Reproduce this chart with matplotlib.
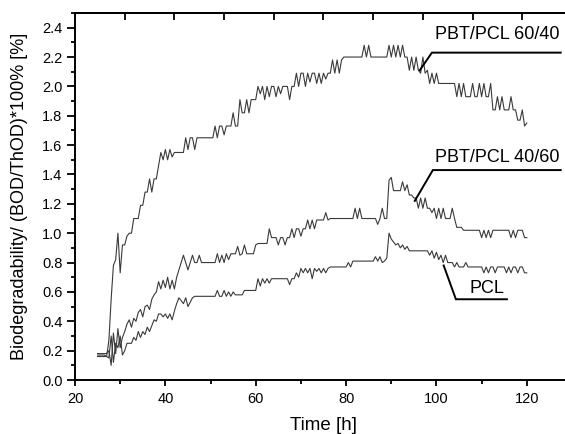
import numpy as np
import matplotlib
matplotlib.use("Agg")
from matplotlib import pyplot as plt
from matplotlib.ticker import MultipleLocator, FormatStrFormatter

plt.rcParams['font.family'] = ['Liberation Sans', 'DejaVu Sans']

# time grid of the measurements [h], one reading every half hour
t_start, t_end, t_step = 25.0, 120.0, 0.5

# Biodegradability (BOD/ThOD)*100% [%]
pbt_pcl_60_40 = [
    0.17, 0.17, 0.17, 0.17, 0.16, 0.27, 0.55, 0.78, 0.82, 1.00,   # 25
    0.73, 0.92, 0.92, 0.98, 1.00, 1.00, 1.10, 1.10, 1.10, 1.19,   # 30
    1.19, 1.28, 1.28, 1.37, 1.28, 1.37, 1.37, 1.46, 1.55, 1.50,   # 35
    1.57, 1.50, 1.57, 1.52, 1.55, 1.55, 1.55, 1.55, 1.55, 1.65,   # 40
    1.57, 1.65, 1.65, 1.57, 1.65, 1.65, 1.65, 1.65, 1.65, 1.65,   # 45
    1.65, 1.65, 1.73, 1.65, 1.73, 1.73, 1.67, 1.73, 1.73, 1.73,   # 50
    1.82, 1.73, 1.73, 1.91, 1.82, 1.82, 1.91, 1.82, 1.91, 1.91,   # 55
    1.91, 2.00, 1.95, 2.00, 1.91, 2.00, 1.93, 2.00, 2.00, 1.93,   # 60
    2.00, 1.95, 2.00, 2.00, 2.00, 1.91, 2.00, 2.00, 2.09, 2.00,   # 65
    2.09, 2.09, 2.00, 2.09, 2.03, 2.09, 2.09, 2.02, 2.09, 2.02,   # 70
    2.09, 2.05, 2.09, 2.09, 2.18, 2.09, 2.18, 2.09, 2.18, 2.20,   # 75
    2.20, 2.20, 2.20, 2.20, 2.20, 2.20, 2.20, 2.20, 2.28, 2.20,   # 80
    2.28, 2.20, 2.20, 2.20, 2.20, 2.20, 2.20, 2.20, 2.20, 2.28,   # 85
    2.20, 2.28, 2.20, 2.28, 2.20, 2.28, 2.20, 2.20, 2.11, 2.20,   # 90
    2.11, 2.20, 2.11, 2.09, 2.20, 2.09, 2.11, 2.02, 2.09, 2.02,   # 95
    2.09, 2.02, 2.02, 2.02, 2.02, 2.02, 2.02, 2.02, 2.02, 1.93,   # 100
    2.02, 1.93, 2.02, 1.93, 1.93, 1.93, 2.02, 1.93, 1.93, 2.02,   # 105
    1.93, 2.02, 1.93, 1.93, 2.02, 1.84, 1.84, 1.93, 1.84, 1.93,   # 110
    1.84, 1.84, 1.84, 1.93, 1.84, 1.84, 1.77, 1.77, 1.84, 1.73,   # 115
    1.75]

pbt_pcl_40_60 = [
    0.18, 0.18, 0.18, 0.18, 0.18, 0.20, 0.10, 0.32, 0.18, 0.35,   # 25
    0.22, 0.29, 0.33, 0.38, 0.41, 0.36, 0.42, 0.40, 0.46, 0.48,   # 30
    0.43, 0.50, 0.51, 0.48, 0.55, 0.58, 0.60, 0.67, 0.62, 0.68,   # 35
    0.63, 0.70, 0.62, 0.68, 0.62, 0.70, 0.75, 0.80, 0.85, 0.80,   # 40
    0.75, 0.80, 0.85, 0.80, 0.80, 0.85, 0.80, 0.80, 0.80, 0.80,   # 45
    0.80, 0.80, 0.80, 0.86, 0.80, 0.85, 0.80, 0.86, 0.82, 0.86,   # 50
    0.86, 0.86, 0.91, 0.85, 0.86, 0.92, 0.86, 0.86, 0.86, 0.86,   # 55
    0.92, 0.93, 0.93, 0.93, 0.93, 0.93, 1.03, 0.97, 0.97, 0.97,   # 60
    0.92, 0.97, 0.97, 0.92, 0.97, 0.97, 1.03, 0.97, 1.03, 1.03,   # 65
    0.98, 1.03, 1.03, 1.09, 1.03, 1.09, 1.03, 1.09, 1.09, 1.09,   # 70
    1.09, 1.14, 1.09, 1.10, 1.10, 1.10, 1.10, 1.10, 1.10, 1.10,   # 75
    1.10, 1.10, 1.10, 1.10, 1.17, 1.10, 1.17, 1.10, 1.10, 1.10,   # 80
    1.10, 1.10, 1.10, 1.10, 1.06, 1.10, 1.17, 1.10, 1.10, 1.36,   # 85
    1.38, 1.29, 1.29, 1.29, 1.29, 1.35, 1.29, 1.33, 1.26, 1.26,   # 90
    1.24, 1.24, 1.17, 1.24, 1.17, 1.24, 1.17, 1.17, 1.14, 1.17,   # 95
    1.10, 1.17, 1.10, 1.17, 1.10, 1.10, 1.10, 1.17, 1.10, 1.04,   # 100
    1.04, 1.04, 1.02, 1.02, 1.02, 1.02, 1.02, 1.02, 1.02, 1.02,   # 105
    0.97, 1.02, 0.97, 1.02, 0.97, 1.02, 1.02, 1.02, 1.02, 1.02,   # 110
    1.02, 1.02, 1.02, 0.97, 1.02, 0.97, 1.02, 1.02, 1.02, 0.97,   # 115
    0.97]

pcl = [
    0.16, 0.16, 0.16, 0.16, 0.16, 0.15, 0.30, 0.12, 0.25, 0.22,   # 25
    0.30, 0.17, 0.20, 0.25, 0.25, 0.25, 0.29, 0.27, 0.33, 0.29,   # 30
    0.33, 0.31, 0.36, 0.33, 0.37, 0.41, 0.40, 0.45, 0.45, 0.43,   # 35
    0.45, 0.42, 0.45, 0.41, 0.47, 0.52, 0.56, 0.54, 0.52, 0.56,   # 40
    0.50, 0.53, 0.56, 0.57, 0.57, 0.57, 0.57, 0.57, 0.57, 0.57,   # 45
    0.57, 0.57, 0.57, 0.61, 0.57, 0.57, 0.61, 0.57, 0.60, 0.57,   # 50
    0.60, 0.58, 0.58, 0.58, 0.58, 0.61, 0.61, 0.61, 0.61, 0.61,   # 55
    0.61, 0.69, 0.64, 0.69, 0.66, 0.69, 0.66, 0.69, 0.69, 0.69,   # 60
    0.69, 0.69, 0.69, 0.69, 0.69, 0.65, 0.69, 0.69, 0.73, 0.70,   # 65
    0.76, 0.73, 0.76, 0.73, 0.76, 0.69, 0.76, 0.74, 0.76, 0.73,   # 70
    0.76, 0.73, 0.76, 0.77, 0.77, 0.77, 0.77, 0.77, 0.77, 0.77,   # 75
    0.77, 0.80, 0.77, 0.81, 0.81, 0.81, 0.81, 0.81, 0.81, 0.81,   # 80
    0.81, 0.81, 0.81, 0.84, 0.81, 0.84, 0.80, 0.81, 0.83, 1.00,   # 85
    0.96, 0.94, 0.92, 0.93, 0.90, 0.92, 0.89, 0.91, 0.88, 0.88,   # 90
    0.88, 0.88, 0.88, 0.88, 0.88, 0.88, 0.88, 0.85, 0.88, 0.83,   # 95
    0.87, 0.82, 0.85, 0.80, 0.85, 0.80, 0.80, 0.80, 0.77, 0.80,   # 100
    0.77, 0.77, 0.77, 0.80, 0.77, 0.77, 0.77, 0.77, 0.77, 0.77,   # 105
    0.77, 0.73, 0.77, 0.73, 0.77, 0.77, 0.73, 0.77, 0.77, 0.77,   # 110
    0.77, 0.73, 0.77, 0.73, 0.77, 0.77, 0.73, 0.77, 0.77, 0.73,   # 115
    0.73]

series_names = ['PBT/PCL 60/40', 'PBT/PCL 40/60', 'PCL']

# leader lines: point on curve, elbow, end of underline, text anchor
leader_tip = [(96.3, 2.11), (95.2, 1.22), (101.6, 0.78)]
leader_elbow = [(99.0, 2.23), (99.2, 1.43), (104.3, 0.55)]
underline_end = [127.5, 127.5, 115.6]
text_pos = [(99.6, 2.32), (99.6, 1.485), (107.4, 0.595)]

t = np.arange(t_start, t_end + t_step / 2, t_step)

fig = plt.figure(figsize=(5.65, 4.34), dpi=100)
ax = fig.add_axes([75 / 565, 54 / 434, 497 / 565, 367 / 434])

for y in [pbt_pcl_60_40, pbt_pcl_40_60, pcl]:
    ax.plot(t, y, color='#3a3a3a', lw=0.8)

for name, tip, elb, xe, tp in zip(series_names, leader_tip, leader_elbow,
                                  underline_end, text_pos):
    ax.plot([tip[0], elb[0], xe], [tip[1], elb[1], elb[1]], color='k',
            lw=1.4, clip_on=False, solid_joinstyle='miter')
    ax.text(tp[0], tp[1], name, fontsize=13, ha='left', va='baseline')

ax.set_xlim(20, 130)
ax.set_ylim(0, 2.5)
ax.xaxis.set_major_locator(MultipleLocator(20))
ax.xaxis.set_minor_locator(MultipleLocator(10))
ax.yaxis.set_major_locator(MultipleLocator(0.2))
ax.yaxis.set_minor_locator(MultipleLocator(0.1))
ax.yaxis.set_major_formatter(FormatStrFormatter('%.1f'))
ax.xaxis.set_ticks_position('bottom')
ax.yaxis.set_ticks_position('left')
ax.tick_params(axis='x', which='major', direction='out', length=4.5,
               width=1.3, labelsize=10.5, pad=4)
ax.tick_params(axis='y', which='major', direction='out', length=5.5,
               width=1.3, labelsize=10.5, pad=3.5)
ax.tick_params(which='minor', direction='out', length=3, width=1.3)
for s in ax.spines.values():
    s.set_linewidth(1.4)

# opposite axes carry their own inward ticks, no labels
top = ax.secondary_xaxis('top')
top.set_xticks(np.arange(31, 131, 11))
top.tick_params(direction='in', length=5, width=1.3, labeltop=False)
top.spines['top'].set_linewidth(1.4)
right = ax.secondary_yaxis('right')
right.set_yticks([0.5, 1.0, 1.5, 2.0])
right.tick_params(direction='in', length=5, width=1.3, labelright=False)
right.spines['right'].set_linewidth(1.4)

ax.set_xlabel('Time [h]', fontsize=13.5, labelpad=8)
ax.set_ylabel('Biodegradability/ (BOD/ThOD)*100% [%]', fontsize=13,
              labelpad=10)

fig.savefig('out.png', dpi=100)
